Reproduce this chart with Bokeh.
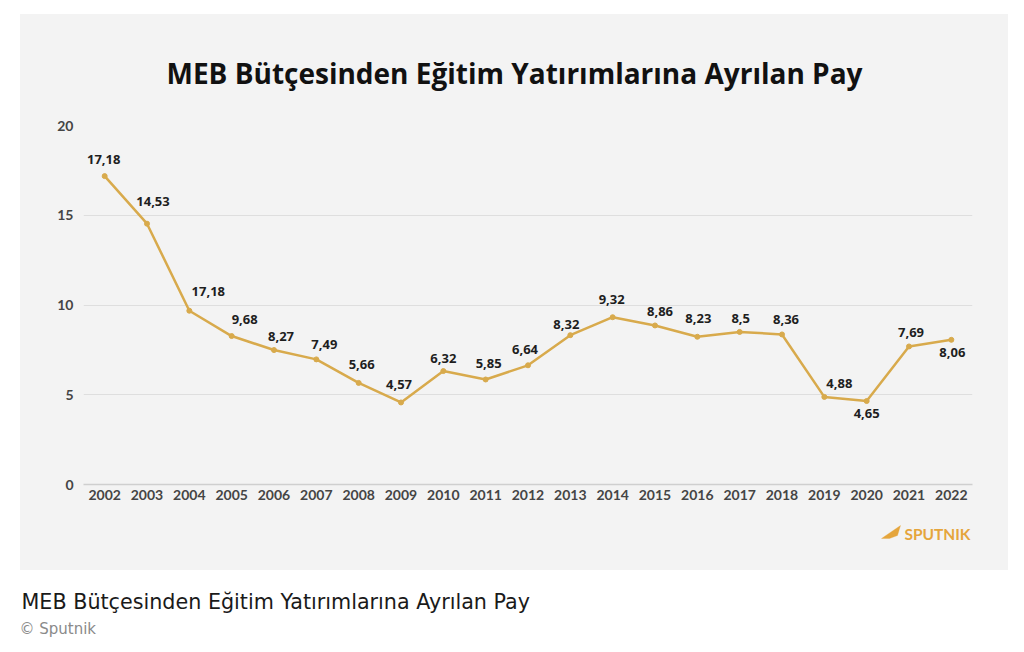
from bokeh.plotting import figure
from bokeh.models import ColumnDataSource, Label, FixedTicker, Range1d, Spacer, PolyAnnotation
from bokeh.layouts import column, row
from bokeh.embed import file_html
from bokeh.resources import INLINE
from bokeh.core.properties import value

# ---- data ----
years = [2002, 2003, 2004, 2005, 2006, 2007, 2008, 2009, 2010, 2011, 2012,
         2013, 2014, 2015, 2016, 2017, 2018, 2019, 2020, 2021, 2022]
share = [17.18, 14.53, 9.68, 8.27, 7.49, 6.97, 5.66, 4.57, 6.32, 5.85, 6.64,
         8.32, 9.32, 8.86, 8.23, 8.50, 8.36, 4.88, 4.65, 7.69, 8.06]
point_labels = ["17,18", "14,53", "17,18", "9,68", "8,27", "7,49", "5,66", "4,57",
                "6,32", "5,85", "6,64", "8,32", "9,32", "8,86", "8,23", "8,5",
                "8,36", "4,88", "4,65", "7,69", "8,06"]
y_ticks = [0, 5, 10, 15, 20]
title_text = "MEB Bütçesinden Eğitim Yatırımlarına Ayrılan Pay"
logo_text = "SPUTNIK"
caption_text = "MEB Bütçesinden Eğitim Yatırımlarına Ayrılan Pay"
credit_text = "© Sputnik"

# ---- label placement (style) ----
label_dx = [-1, 6, 19, 13, 7, 8, 3, -2, 0, 3, -3, -4, -1, 5, 1, 1, 4, 15, 0, 2, 1]
label_dy = [-17, -22, -19, -17, -14, -15, -18, -18, -13, -16, -16, -11, -18, -14, -18,
            -13, -15, -13, 12, -14, 13]

PANEL = "#f3f3f3"
GOLD = "#d8aa4c"
LOGO = "#e5a53c"
W = 988
BL, BR = 63, 36          # side borders shared by the stacked panel figures
FL = 20 + BL             # page x of the frame's left edge


def blank(height, bg, left=0, right=0):
    f = figure(width=W, height=height, output_backend="svg", toolbar_location=None,
               x_range=Range1d(0, 1), y_range=Range1d(0, 1),
               min_border_left=left, min_border_right=right, min_border_top=0,
               min_border_bottom=0)
    f.axis.visible = False
    f.grid.visible = False
    f.outline_line_color = None
    f.background_fill_color = None
    f.border_fill_color = bg
    return f


# header with title
head = blank(90, PANEL, BL, BR)
head.add_layout(Label(x=514 - FL, y=32, x_units="screen", y_units="screen", text=title_text,
                      text_align="center", text_baseline="middle", text_font="Open Sans",
                      text_font_style="bold", text_font_size="28px", text_color="#111111"))

# main chart
src = ColumnDataSource(dict(x=years, y=share, lab=point_labels, dx=label_dx, dy=label_dy))
p = figure(width=W, height=416, output_backend="svg", toolbar_location=None,
           x_range=Range1d(years[0] - 0.5, years[-1] + 0.5), y_range=Range1d(0, 20),
           min_border_left=BL, min_border_right=BR, min_border_top=21, min_border_bottom=36)
p.background_fill_color = PANEL
p.border_fill_color = PANEL
p.outline_line_color = None

p.line("x", "y", source=src, line_color=GOLD, line_width=2.5)
p.scatter("x", "y", source=src, size=5, fill_color=GOLD, line_color=GOLD)
p.text("x", "y", text="lab", source=src, x_offset="dx", y_offset="dy",
       text_align="center", text_baseline="middle", text_font=value("Open Sans"),
       text_font_style="bold", text_font_size="13px", text_color="#1e1e1e")

p.xaxis.ticker = FixedTicker(ticks=years)
p.yaxis.ticker = FixedTicker(ticks=y_ticks)
p.xaxis.axis_line_color = "#cfcfcf"
p.xaxis.axis_line_width = 1.5
p.yaxis.axis_line_color = None
for ax in (p.xaxis, p.yaxis):
    ax.major_tick_line_color = None
    ax.minor_tick_line_color = None
    ax.major_tick_out = 0
    ax.major_tick_in = 0
    ax.major_label_text_font = "Lato"
    ax.major_label_text_font_style = "bold"
    ax.major_label_text_font_size = "14px"
    ax.major_label_text_color = "#454545"
p.xaxis.major_label_standoff = 5
p.yaxis.major_label_standoff = 10
p.xgrid.grid_line_color = None
p.ygrid.grid_line_color = "#dedede"
p.ygrid.grid_line_width = 1.2

# footer with Sputnik logo
foot = blank(50, PANEL, BL, BR)
foot.add_layout(PolyAnnotation(xs=[881 - FL, 900 - FL, 897 - FL, 889 - FL], ys=[32, 45, 35, 32],
                               xs_units="screen", ys_units="screen",
                               fill_color=LOGO, fill_alpha=1, line_color=LOGO, line_width=1))
foot.add_layout(Label(x=970 - FL, y=37, x_units="screen", y_units="screen", text=logo_text,
                      text_align="right", text_baseline="middle", text_font="Lato",
                      text_font_style="bold", text_font_size="15.5px", text_color=LOGO))

# caption below the panel
c = blank(74, "white")
c.width = 1008
c.add_layout(Label(x=21, y=43, x_units="screen", y_units="screen", text=caption_text,
                   text_baseline="middle", text_font="DejaVu Sans", text_font_size="20.7px",
                   text_color="#1a1a1a"))
c.add_layout(Label(x=19, y=16, x_units="screen", y_units="screen", text=credit_text,
                   text_baseline="middle", text_font="DejaVu Sans", text_font_size="15px",
                   text_color="#8a8a8a"))

panel = column(head, p, foot, styles={"background-color": PANEL})
layout = column(Spacer(height=14), row(Spacer(width=20), panel), c)
open("out.html", "w").write(file_html(layout, INLINE))
